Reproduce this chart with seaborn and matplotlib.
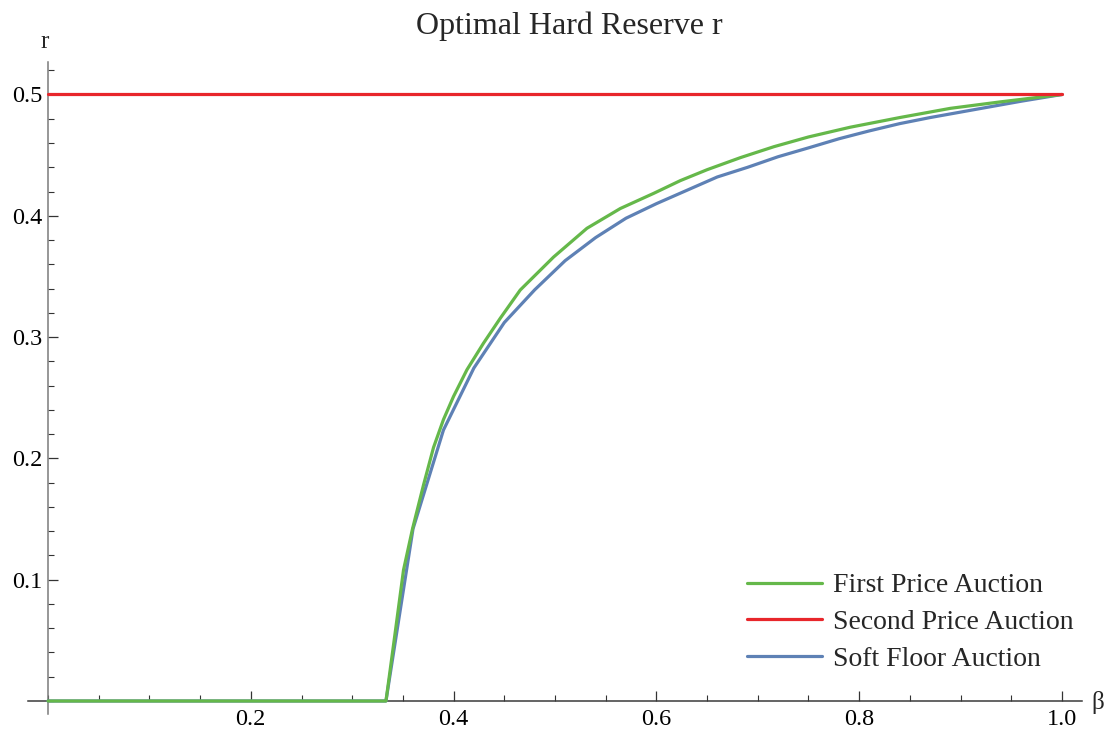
import numpy as np
import pandas as pd
import matplotlib
matplotlib.use("Agg")
import matplotlib.pyplot as plt
import seaborn as sns
from matplotlib.ticker import FixedLocator, MultipleLocator

# ---------------- data ----------------
title = "Optimal Hard Reserve r"
x_label = "β"
y_label = "r"
series_names = ["First Price Auction", "Second Price Auction", "Soft Floor Auction"]

beta_first = [0.0, 0.3333, 0.342, 0.3506, 0.3595, 0.3703, 0.3802, 0.390, 0.3999,
              0.4131, 0.4295, 0.446, 0.4657, 0.4986, 0.5315, 0.5644, 0.5973,
              0.6236, 0.650, 0.683, 0.716, 0.75, 0.791, 0.84, 0.89, 0.94, 1.0]
r_first = [0.0, 0.0, 0.054, 0.108, 0.142, 0.178, 0.209, 0.232, 0.251,
           0.273, 0.295, 0.3155, 0.3388, 0.366, 0.3897, 0.406, 0.4185,
           0.429, 0.438, 0.448, 0.457, 0.465, 0.473, 0.481, 0.4886, 0.494, 0.5]

beta_second = [0.0, 1.0]
r_second = [0.5, 0.5]

beta_soft = [0.0, 0.3333, 0.36, 0.39, 0.42, 0.45, 0.48, 0.51, 0.54, 0.57, 0.60,
             0.63, 0.66, 0.69, 0.72, 0.75, 0.78, 0.81, 0.84, 0.87, 0.90, 0.93,
             0.96, 1.0]
r_soft = [0.0, 0.0, 0.142, 0.2234, 0.2745, 0.312, 0.339, 0.363, 0.382, 0.398, 0.410,
          0.421, 0.432, 0.440, 0.4487, 0.456, 0.4635, 0.470, 0.476, 0.481, 0.4855, 0.490,
          0.4945, 0.5]

x_ticks = [0.2, 0.4, 0.6, 0.8, 1.0]
x_tick_labels = ["0.2", "0.4", "0.6", "0.8", "1.0"]
y_ticks = [0.1, 0.2, 0.3, 0.4, 0.5]
y_tick_labels = ["0.1", "0.2", "0.3", "0.4", "0.5"]

colors = {"First Price Auction": "#65B84A",
          "Second Price Auction": "#E8262B",
          "Soft Floor Auction": "#5E81B5"}

# ---------------- style ----------------
sns.set_theme(style="ticks")
plt.rcParams["font.family"] = ["Liberation Serif", "DejaVu Serif"]

W, H = 1109, 734
fig = plt.figure(figsize=(W / 100, H / 100), dpi=100)
ax = fig.add_axes([28 / W, 20 / H, 1054 / W, 652 / H])

df_first = pd.DataFrame({"beta": beta_first, "r": r_first})
df_second = pd.DataFrame({"beta": beta_second, "r": r_second})
df_soft = pd.DataFrame({"beta": beta_soft, "r": r_soft})

lw = 2.3
sns.lineplot(data=df_soft, x="beta", y="r", ax=ax, color=colors["Soft Floor Auction"],
             lw=lw, label="Soft Floor Auction", sort=False, zorder=3)
sns.lineplot(data=df_first, x="beta", y="r", ax=ax, color=colors["First Price Auction"],
             lw=lw, label="First Price Auction", sort=False, zorder=4)
sns.lineplot(data=df_second, x="beta", y="r", ax=ax, color=colors["Second Price Auction"],
             lw=lw, label="Second Price Auction", sort=False, zorder=5)

ax.set_xlim(-20 / 1014, 1 + 20 / 1014)
ax.set_ylim(-13 / 1213, 0.5 + 32.5 / 1213)

for s in ["top", "right"]:
    ax.spines[s].set_visible(False)
ax.spines["left"].set_position(("data", 0))
ax.spines["bottom"].set_position(("data", 0))
ax.spines["left"].set_color("#7a7a7a")
ax.spines["bottom"].set_color("#3a3a3a")
ax.spines["left"].set_linewidth(1.1)
ax.spines["bottom"].set_linewidth(1.1)

ax.xaxis.set_major_locator(FixedLocator(x_ticks))
ax.set_xticklabels(x_tick_labels)
ax.xaxis.set_minor_locator(MultipleLocator(0.05))
ax.yaxis.set_major_locator(FixedLocator(y_ticks))
ax.set_yticklabels(y_tick_labels)
ax.yaxis.set_minor_locator(MultipleLocator(0.02))

ax.tick_params(axis="both", which="both", bottom=True, left=True, top=False, right=False)
ax.tick_params(axis="both", which="major", direction="in", length=7.5, width=0.9,
               color="#333333", labelsize=17.5, labelcolor="black")
ax.tick_params(axis="both", which="minor", direction="in", length=4.6, width=0.8,
               color="#333333")
ax.tick_params(axis="x", which="major", pad=6)
ax.tick_params(axis="y", which="major", pad=4)
ax.set_xlabel("")
ax.set_ylabel("")
ax.grid(False)

fig.text(1098 / W, 1 - 702 / H, x_label, fontsize=18, ha="center", va="center")
fig.text(45 / W, 1 - 42 / H, y_label, fontsize=18, ha="center", va="center")
fig.text(569 / W, 1 - 26 / H, title, fontsize=23, ha="center", va="center")

handles, labels = ax.get_legend_handles_labels()
order = [labels.index(n) for n in series_names]
leg = ax.legend([handles[i] for i in order], [labels[i] for i in order],
                loc="lower right", bbox_to_anchor=(1074 / W, 1 - 672 / H),
                bbox_transform=fig.transFigure, frameon=False, fontsize=20,
                handlelength=2.7, handletextpad=0.4, labelspacing=0.41,
                borderaxespad=0, borderpad=0)

fig.savefig("out.png", dpi=100)
